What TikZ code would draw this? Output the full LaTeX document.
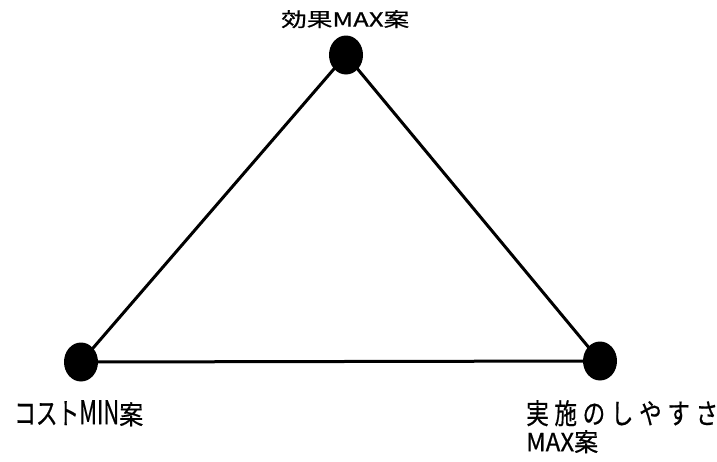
\documentclass[tikz,border=0pt]{standalone}
\usepackage{fontspec}
\usepackage{graphicx}
\newfontfamily\jp[FakeBold=0.6]{Noto Sans CJK JP}
\usetikzlibrary{shapes.geometric}
\tikzset{
  dot/.style={ellipse, fill=black, draw=none, inner sep=0pt, minimum width=34pt, minimum height=39pt},
  edge/.style={line width=3pt, black},
  lbl/.style={inner sep=0pt, anchor=north west, font=\jp}
}
\begin{document}
\begin{tikzpicture}[x=1pt,y=-1pt]
\useasboundingbox (0,0) rectangle (717,461);
\node[dot] (top) at (346,55) {};
\node[dot] (bl) at (81,362) {};
\node[dot] (br) at (600,361) {};
\draw[edge] (top.center) -- (bl.center);
\draw[edge] (top.center) -- (br.center);
\draw[edge] (bl.center) -- (br.center);
\node[lbl] (ltop) at (281,10) {\resizebox*{128pt}{18pt}{効果MAX案}};
\node[lbl] (lbl) at (14,400) {\resizebox*{65pt}{24pt}{コスト}\resizebox*{40pt}{24pt}{MIN}\resizebox*{24pt}{24pt}{案}};
\node[lbl] (lbr1) at (526,400) {\resizebox*{192pt}{26pt}{実\kern2.5pt 施\kern2.5pt の\kern2.5pt し\kern2.5pt や\kern2.5pt す\kern2.5pt さ}};
\node[lbl] (lbr2) at (526,430) {\resizebox*{72pt}{23pt}{MAX案}};
\end{tikzpicture}
\end{document}
